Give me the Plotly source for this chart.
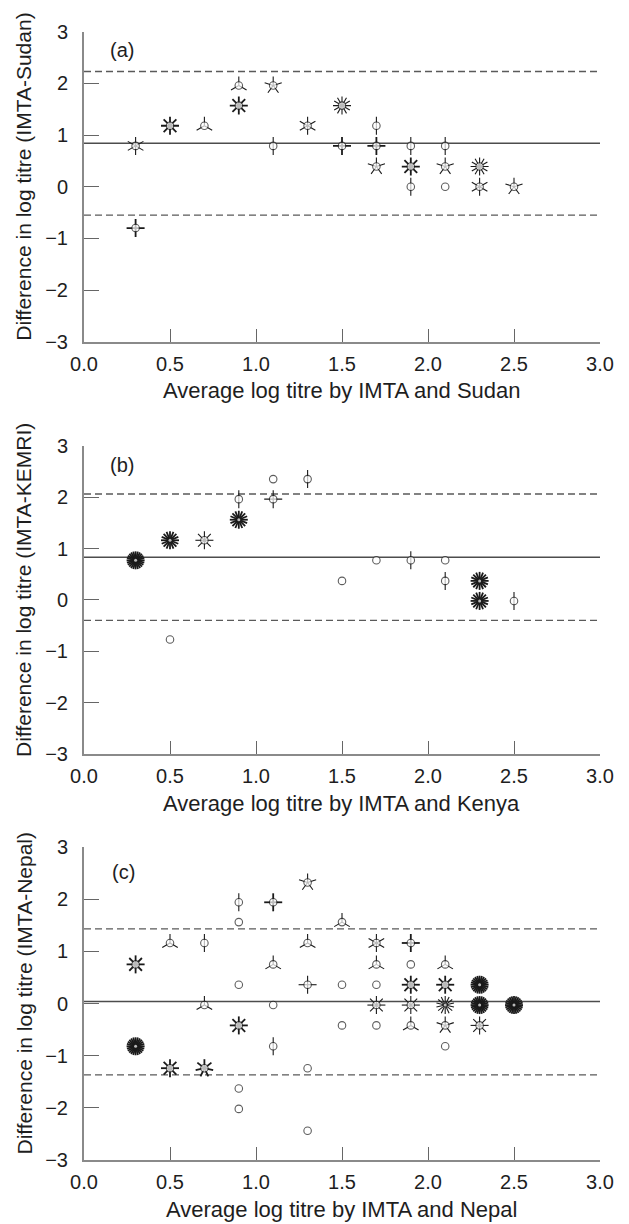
import math
import plotly.graph_objects as go

# ---------------- data ----------------
# Panel (a): IMTA vs Sudan
a_x = [0.3, 0.3, 0.5, 0.7, 0.9, 0.9, 1.1, 1.1, 1.3, 1.5, 1.5, 1.7, 1.7, 1.7,
       1.9, 1.9, 1.9, 2.1, 2.1, 2.1, 2.3, 2.3, 2.5]
a_y = [0.79, -0.80, 1.18, 1.18, 1.96, 1.57, 1.96, 0.79, 1.18, 1.57, 0.79, 1.18, 0.79, 0.39,
       0.79, 0.39, 0.0, 0.79, 0.39, 0.0, 0.39, 0.0, 0.0]
a_n = [6, 4, 8, 3, 3, 8, 5, 2, 6, 12, 4, 2, 4, 5,
       2, 8, 2, 2, 5, 1, 12, 6, 5]
a_dark = [0, 1, 1, 0, 0, 1, 0, 0, 0, 0, 1, 0, 1, 0,
          0, 1, 0, 0, 0, 0, 0, 0, 0]
a_lines = {"mean": 0.84, "lo": -0.55, "hi": 2.23}

# Panel (b): IMTA vs KEMRI (Kenya)
b_x = [0.3, 0.5, 0.5, 0.7, 0.9, 0.9, 1.1, 1.1, 1.3, 1.5, 1.7, 1.9, 2.1, 2.1, 2.3, 2.3, 2.5]
b_y = [0.77, 1.16, -0.77, 1.16, 1.96, 1.56, 2.35, 1.96, 2.35, 0.37, 0.77, 0.77, 0.77, 0.37,
       0.37, -0.02, -0.02]
b_n = [24, 16, 1, 8, 2, 16, 1, 4, 2, 1, 1, 2, 1, 2, 16, 16, 2]
b_dark = [1, 1, 0, 0, 0, 1, 0, 0, 0, 0, 0, 0, 0, 0, 1, 1, 0]
b_lines = {"mean": 0.83, "lo": -0.40, "hi": 2.06}

# Panel (c): IMTA vs Nepal
c_x = [0.3, 0.3, 0.5, 0.5, 0.7, 0.7, 0.7,
       0.9, 0.9, 0.9, 0.9, 0.9, 0.9,
       1.1, 1.1, 1.1, 1.1,
       1.3, 1.3, 1.3, 1.3, 1.3,
       1.5, 1.5, 1.5,
       1.7, 1.7, 1.7, 1.7, 1.7,
       1.9, 1.9, 1.9, 1.9, 1.9,
       2.1, 2.1, 2.1, 2.1, 2.1,
       2.3, 2.3, 2.3, 2.5]
c_y = [0.75, -0.82, 1.16, -1.24, 1.16, -0.03, -1.24,
       1.94, 1.56, 0.36, -0.42, -1.63, -2.02,
       1.94, 0.75, -0.03, -0.82,
       2.32, 1.16, 0.36, -1.24, -2.44,
       1.56, 0.36, -0.42,
       1.16, 0.75, 0.36, -0.03, -0.42,
       1.16, 0.75, 0.36, -0.03, -0.42,
       0.75, 0.36, -0.03, -0.42, -0.82,
       0.36, -0.03, -0.42, -0.03]
c_n = [8, 24, 3, 8, 2, 3, 7,
       2, 1, 1, 8, 1, 1,
       4, 3, 1, 2,
       5, 3, 4, 1, 1,
       3, 1, 1,
       6, 3, 1, 8, 1,
       4, 1, 8, 8, 3,
       3, 8, 14, 5, 1,
       24, 24, 8, 24]
c_dark = [1, 1, 0, 1, 0, 0, 1,
          0, 0, 0, 1, 0, 0,
          1, 0, 0, 0,
          0, 0, 0, 0, 0,
          0, 0, 0,
          0, 0, 0, 0, 0,
          1, 0, 1, 0, 0,
          0, 1, 0, 0, 0,
          1, 1, 0, 1]
c_lines = {"mean": 0.04, "lo": -1.37, "hi": 1.43}

panel_tags = ["(a)", "(b)", "(c)"]
x_titles = ["Average log titre by IMTA and Sudan",
            "Average log titre by IMTA and Kenya",
            "Average log titre by IMTA and Nepal"]
y_titles = ["Difference in log titre (IMTA-Sudan)",
            "Difference in log titre (IMTA-KEMRI)",
            "Difference in log titre (IMTA-Nepal)"]
x_ticks = [0.0, 0.5, 1.0, 1.5, 2.0, 2.5, 3.0]
y_ticks = [-3, -2, -1, 0, 1, 2, 3]
tag_pos = [(0.22, 2.65), (0.22, 2.63), (0.23, 2.52)]

# ---------------- layout geometry (window pixels) ----------------
PAGE_W, PAGE_H = 629, 1224
BODY = 8                     # default page margin around the plot div
W, H = PAGE_W - BODY, PAGE_H - BODY
X_LEFT, X_RIGHT = 84, 600
PANELS_PX = [(31.7, 341.7), (445.7, 754.1), (847.0, 1160.0)]  # (top, bottom)
XR = [0, 3]
YR = [-3, 3]


def fx(px):
    return (px - BODY) / W


def fy(py):
    return 1 - (py - BODY) / H


FONT = "Liberation Sans, Arial, Helvetica, sans-serif"
TXT = "#1e1e1e"
INK = "#1a1a1a"

fig = go.Figure()
panels = [
    (a_x, a_y, a_n, a_dark, a_lines),
    (b_x, b_y, b_n, b_dark, b_lines),
    (c_x, c_y, c_n, c_dark, c_lines),
]

px_per_x = (X_RIGHT - X_LEFT) / (XR[1] - XR[0])
R_PETAL = 9.0

for i, (xs, ys, ns, dk, ln) in enumerate(panels):
    top, bot = PANELS_PX[i]
    px_per_y = (bot - top) / (YR[1] - YR[0])
    xa = "x" if i == 0 else f"x{i+1}"
    ya = "y" if i == 0 else f"y{i+1}"

    # reference lines
    fig.add_trace(go.Scatter(x=XR, y=[ln["mean"]] * 2, mode="lines", xaxis=xa, yaxis=ya,
                             line=dict(color="#4d4d4d", width=1.5), hoverinfo="skip"))
    for key in ("lo", "hi"):
        fig.add_trace(go.Scatter(x=XR, y=[ln[key]] * 2, mode="lines", xaxis=xa, yaxis=ya,
                                 line=dict(color="#5a5a5a", width=1.3, dash="7px,4px"),
                                 hoverinfo="skip"))

    # sunflower petals
    for want_dark, lw in ((0, 1.1), (1, 1.8)):
        PX, PY = [], []
        for x, y, n, d in zip(xs, ys, ns, dk):
            if n < 2 or d != want_dark:
                continue
            for k in range(n):
                t = math.pi / 2 + 2 * math.pi * k / n
                PX += [x, x + R_PETAL * math.cos(t) / px_per_x, None]
                PY += [y, y + R_PETAL * math.sin(t) / px_per_y, None]
        if PX:
            fig.add_trace(go.Scatter(x=PX, y=PY, mode="lines", xaxis=xa, yaxis=ya,
                                     line=dict(color=INK, width=lw), hoverinfo="skip"))

    # sunflower centres
    sizes = [3 if n >= 14 else 7.5 for n in ns]
    lws = [0 if n >= 14 else 1.1 for n in ns]
    fig.add_trace(go.Scatter(x=xs, y=ys, mode="markers", xaxis=xa, yaxis=ya,
                             marker=dict(symbol="circle", size=sizes, color="white",
                                         line=dict(color=INK, width=lws)),
                             hoverinfo="skip"))

    # axes
    axis_common = dict(showgrid=False, zeroline=False, showline=True,
                       linecolor="#8a8a8a", linewidth=2, ticks="inside",
                       tickcolor="#666666", tickwidth=1.3, automargin=False,
                       tickfont=dict(family=FONT, size=20, color=TXT))
    fig.layout[("xaxis" if i == 0 else f"xaxis{i+1}")] = dict(
        domain=[fx(X_LEFT), fx(X_RIGHT)], anchor=ya, range=XR,
        tickvals=x_ticks, ticktext=[f"{v:.1f}" for v in x_ticks],
        ticklen=13, ticklabelstandoff=3, **axis_common)
    fig.layout[("yaxis" if i == 0 else f"yaxis{i+1}")] = dict(
        domain=[fy(bot), fy(top)], anchor=xa, range=YR,
        tickvals=y_ticks, ticklen=15, ticklabelstandoff=10, **axis_common)

    # panel tag
    fig.add_annotation(x=tag_pos[i][0], y=tag_pos[i][1], xref=xa, yref=ya,
                       text=panel_tags[i], showarrow=False,
                       font=dict(family=FONT, size=20, color=TXT))
    # x title
    fig.add_annotation(x=fx((X_LEFT + X_RIGHT) / 2), y=fy(bot + 49),
                       xref="paper", yref="paper", text=x_titles[i], showarrow=False,
                       xanchor="center", yanchor="middle",
                       font=dict(family=FONT, size=22, color=TXT))
    # y title
    fig.add_annotation(x=fx(24), y=fy((top + bot) / 2 - 10),
                       xref="paper", yref="paper", text=y_titles[i], showarrow=False,
                       textangle=-90, xanchor="center", yanchor="middle",
                       font=dict(family=FONT, size=21, color=TXT))

fig.update_layout(width=W, height=H,
                  margin=dict(l=0, r=0, t=0, b=0, autoexpand=False),
                  paper_bgcolor="white", plot_bgcolor="white", showlegend=False)

fig.write_html("out.html", config={"displayModeBar": False})
